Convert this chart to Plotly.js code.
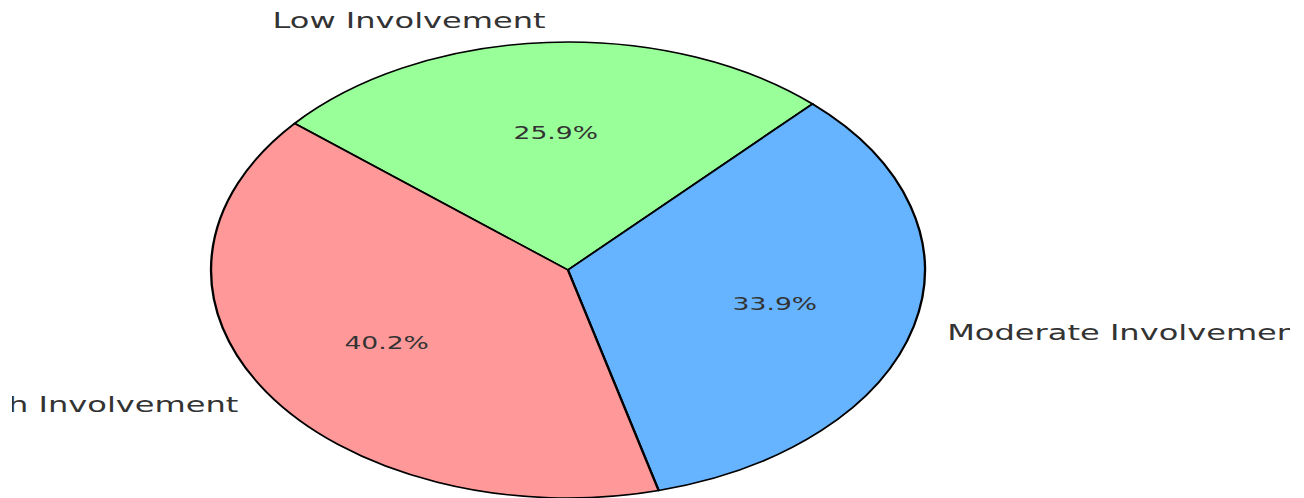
<!DOCTYPE html>
<html>
<head>
<meta charset="utf-8">
<script src="https://cdn.plot.ly/plotly-3.0.1.min.js"></script>
<style>
  html, body { margin: 0; padding: 0; background: #ffffff; overflow: hidden; width: 1304px; height: 498px; }
  #wrap { width: 1304px; height: 498px; overflow: hidden; position: relative; clip-path: inset(0px 14px 0px 12px); }
  #chart { width: 833px; height: 498px; transform: scaleX(1.5654); transform-origin: 0 0; position: absolute; left: 0; top: 0; }
</style>
</head>
<body>
<div id="wrap"><div id="chart"></div></div>
<script>
// Data
const categories = ["Low Involvement", "Moderate Involvement", "High Involvement"];
const shares = [25.9, 33.9, 40.2];
const colors = ["#99ff99", "#66b3ff", "#ff9999"];

// Geometry (pie drawn in an unscaled frame, then stretched like the reference)
const startAngle = 140;        // degrees, math convention
const labelRadius = 1.1;
const pctRadius = 0.6;

const total = shares.reduce((a, b) => a + b, 0);
const annotations = [];
let ang = startAngle;
shares.forEach((v, i) => {
  const sweep = v / total * 360;
  const mid = (ang - sweep / 2) * Math.PI / 180;
  const cx = Math.cos(mid), cy = Math.sin(mid);
  annotations.push({
    x: labelRadius * cx, y: labelRadius * cy, xref: "x", yref: "y",
    text: categories[i], showarrow: false,
    xanchor: cx > 0 ? "left" : "right", yanchor: "middle",
    xshift: cx > 0 ? -3 : 3, yshift: -1,
    font: { family: "DejaVu Sans", size: 20.5, color: "#333333" }
  });
  annotations.push({
    x: pctRadius * cx, y: pctRadius * cy, xref: "x", yref: "y",
    text: (v).toFixed(1) + "%", showarrow: false,
    xanchor: "center", yanchor: "middle",
    font: { family: "DejaVu Sans", size: 17, color: "#333333" }
  });
  ang -= sweep;
});

const W = 833, H = 498, R = 228, CX = 362.8, CY = 270;
const trace = {
  type: "pie",
  labels: categories,
  values: shares,
  sort: false,
  direction: "clockwise",
  rotation: 90 - startAngle,
  marker: { colors: colors, line: { color: "#000000", width: 1.5 } },
  textinfo: "none",
  hoverinfo: "label+percent",
  showlegend: false,
  domain: { x: [(CX - R) / W, (CX + R) / W], y: [(H - CY - R) / H, (H - CY + R) / H] }
};

const layout = {
  width: W, height: H,
  margin: { l: 0, r: 0, t: 0, b: 0 },
  paper_bgcolor: "#ffffff", plot_bgcolor: "rgba(0,0,0,0)",
  showlegend: false,
  xaxis: { range: [-CX / R, (W - CX) / R], visible: false, fixedrange: true },
  yaxis: { range: [-(H - CY) / R, CY / R], visible: false, fixedrange: true },
  annotations: annotations
};

Plotly.newPlot("chart", [trace], layout, { displayModeBar: false, staticPlot: true });
</script>
</body>
</html>
